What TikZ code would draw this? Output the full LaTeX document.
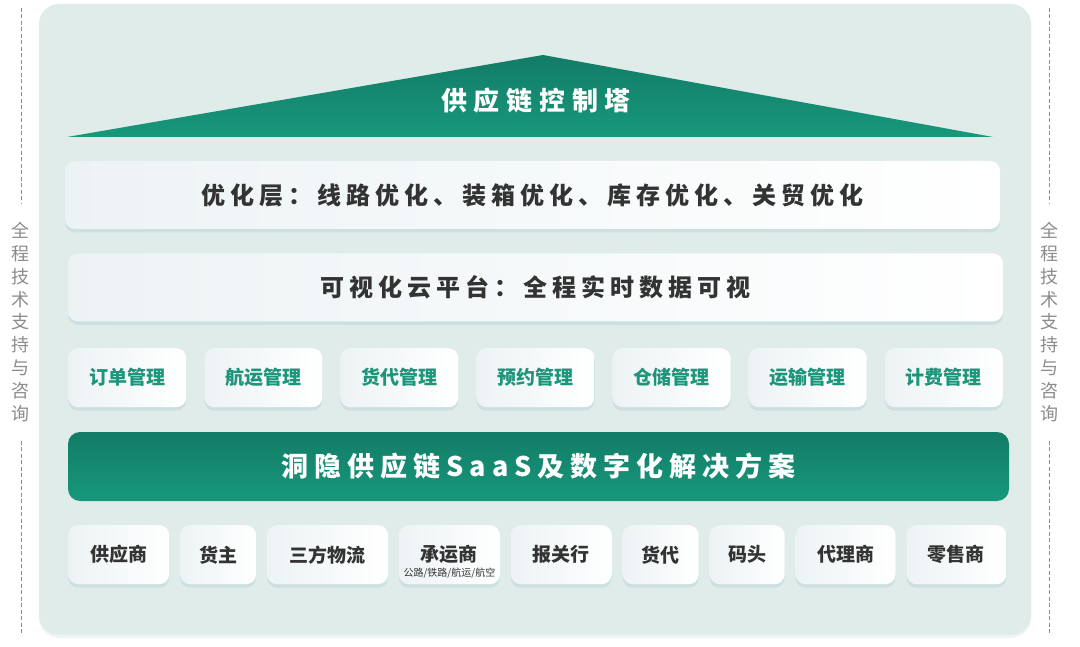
\documentclass[tikz,border=0pt]{standalone}
\usepackage{fontspec}
\setmainfont{Noto Sans CJK SC}
\usetikzlibrary{
  positioning,
  shadows,
}
\definecolor{panelbg}{HTML}{DFECEA}
\definecolor{paneledge}{HTML}{EEF5F4}
\definecolor{towertop}{HTML}{137C67}
\definecolor{towerbot}{HTML}{17987B}
\definecolor{boxtint}{HTML}{EDF3F5}
\definecolor{shadowc}{HTML}{C6DCE0}
\definecolor{darktext}{HTML}{333333}
\definecolor{greentext}{HTML}{1C957A}
\definecolor{sidegray}{HTML}{8C8C8C}
\tikzset{
  panel/.style={
    rectangle,
    rounded corners=20pt,
    fill=panelbg,
    minimum width=992pt,
    minimum height=631pt,
    drop shadow={shadow xshift=0pt, shadow yshift=-3pt, fill=paneledge, opacity=1},
  },
  card/.style={
    rectangle,
    rounded corners=10pt,
    inner sep=0pt,
    left color=boxtint,
    right color=white,
    text centered,
    drop shadow={shadow xshift=0pt, shadow yshift=-3.5pt, fill=shadowc, opacity=0.75},
  },
  layer/.style={
    card,
    minimum width=935pt,
    minimum height=68pt,
    text=darktext,
    font=\bfseries\fontsize{24}{24}\selectfont\addfontfeatures{LetterSpace=21},
  },
  module/.style={
    card,
    minimum width=118pt,
    minimum height=59pt,
    text=greentext,
    font=\bfseries\fontsize{19}{19}\selectfont,
  },
  party/.style={
    card,
    minimum height=59pt,
    text=darktext,
    font=\bfseries\fontsize{19}{19}\selectfont,
  },
  saas/.style={
    rectangle,
    rounded corners=12pt,
    inner sep=0pt,
    top color=towertop,
    bottom color=towerbot,
    minimum width=941pt,
    minimum height=69pt,
    text=white,
    font=\bfseries\fontsize{27}{27}\selectfont\addfontfeatures{LetterSpace=22},
  },
  towertext/.style={
    text=white,
    font=\bfseries\fontsize{26}{26}\selectfont\addfontfeatures{LetterSpace=26},
  },
  sidetext/.style={
    align=center,
    inner xsep=0pt,
    inner ysep=19pt,
    text=sidegray,
    font=\fontsize{18}{22.8}\selectfont,
  },
  sideline/.style={
    draw=sidegray,
    line width=0.7pt,
    dash pattern=on 4pt off 2.5pt,
  },
}

\begin{document}
\begin{tikzpicture}[x=1pt, y=-1pt, node distance=17.7pt]

  \fill[white] (0,0) rectangle (1080,647);
  \useasboundingbox (0,0) rectangle (1080,647);

  % Background panel
  \node (panel) [panel] at (535,319.5) {};

  % Control tower
  \coordinate (tw) at (67,137);
  \coordinate (tn) at (543,55);
  \coordinate (te) at (993,137);
  \shade[top color=towertop, bottom color=towerbot] (tw) -- (tn) -- (te) -- cycle;
  \node (tower) [towertext] at (536,101) {供应链控制塔};

  % Layers
  \node (optim) [layer] at (532.5,195) {优化层：线路优化、装箱优化、库存优化、关贸优化};
  \node (visual) [layer, below=24pt of optim, xshift=3pt] {可视化云平台：全程实时数据可视};

  % Modules
  \node (order) [module, anchor=north west] at (68,348) {订单管理};
  \node (shipping) [module, right=of order] {航运管理};
  \node (forward) [module, right=of shipping] {货代管理};
  \node (booking) [module, right=of forward] {预约管理};
  \node (storage) [module, right=of booking] {仓储管理};
  \node (transport) [module, right=of storage] {运输管理};
  \node (billing) [module, right=of transport] {计费管理};

  % SaaS bar
  \node (platform) [saas] at (538.5,466.5) {洞隐供应链SaaS及数字化解决方案};

  % Parties
  \node (supplier) [party, minimum width=101pt, anchor=north west] at (68,525) {供应商};
  \node (owner) [party, minimum width=76pt, right=10.5pt of supplier] {货主};
  \node (tpl) [party, minimum width=121pt, right=10.5pt of owner] {三方物流};
  \node (carrier) [party, minimum width=101pt, right=10.5pt of tpl,
    label={[anchor=south, yshift=3pt, text=darktext, font=\fontsize{10}{10}\selectfont]south:公路/铁路/航运/航空}] {承运商};
  \node (customs) [party, minimum width=101pt, right=10.5pt of carrier] {报关行};
  \node (agent) [party, minimum width=76pt, right=10.5pt of customs] {货代};
  \node (port) [party, minimum width=75pt, right=10.5pt of agent] {码头};
  \node (dealer) [party, minimum width=100pt, right=10.5pt of port] {代理商};
  \node (retail) [party, minimum width=100pt, right=10.5pt of dealer] {零售商};

  % Side notes
  \node (lside) [sidetext] at (21,322) {全\\程\\技\\术\\支\\持\\与\\咨\\询};
  \node (rside) [sidetext] at (1049,322) {全\\程\\技\\术\\支\\持\\与\\咨\\询};
  \coordinate (ltop) at (21,8);
  \coordinate (lbot) at (21,635);
  \coordinate (rtop) at (1049,8);
  \coordinate (rbot) at (1049,635);

  \draw [sideline] (ltop) -- (lside.north);
  \draw [sideline] (lside.south) -- (lbot);
  \draw [sideline] (rtop) -- (rside.north);
  \draw [sideline] (rside.south) -- (rbot);

\end{tikzpicture}
\end{document}
